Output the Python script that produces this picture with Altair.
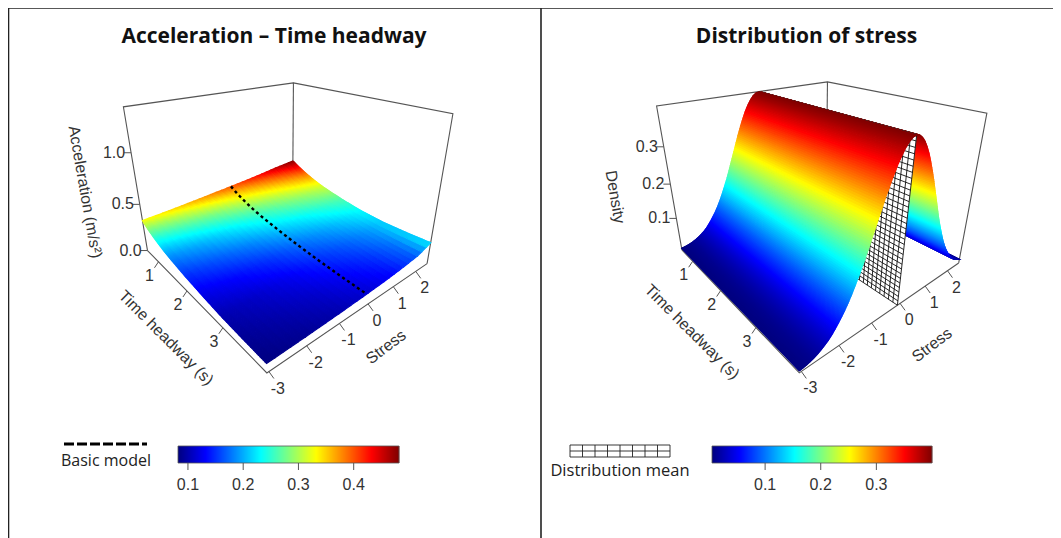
import altair as alt
import numpy as np
import pandas as pd

W, H = 1045, 530

# ---------- values ----------
headway_ticks = [1, 2, 3]
stress_ticks = [-3, -2, -1, 0, 1, 2]
accel_ticks = [0.0, 0.5, 1.0]
density_ticks = [0.1, 0.2, 0.3]
HEADWAY_RANGE = (0.55, 3.95)
STRESS_RANGE = (-3.05, 2.55)
MEAN_LINE_S = -0.1

accel_h = [0.55, 0.75, 1.0, 1.25, 1.5, 2.0, 2.5, 3.0, 3.5, 3.95]
accel_s = [-3.05, -2, -1, 0, 1, 2, 2.55]
accel_z = [
    [.330, .350, .375, .400, .430, .465, .482],
    [.285, .305, .330, .355, .385, .415, .435],
    [.245, .265, .285, .315, .340, .370, .385],
    [.212, .232, .255, .280, .305, .332, .345],
    [.187, .205, .228, .252, .278, .300, .312],
    [.150, .168, .187, .212, .232, .255, .265],
    [.122, .135, .153, .177, .197, .220, .232],
    [.100, .112, .128, .150, .170, .195, .215],
    [.090, .100, .112, .130, .150, .180, .217],
    [.083, .090, .100, .115, .135, .170, .225],
]

density_s = [-3.05, -2.9, -2.8, -2.7, -2.6, -2.5, -2.4, -2.3, -2.2, -2.1, -2.0, -1.9, -1.8, -1.7, -1.6, -1.5,
             -1.4, -1.3, -1.2, -1.1, -1.0, -0.9, -0.8, -0.7, -0.6, -0.5, -0.4, -0.3, -0.2, -0.1, 0.0,
             0.1, 0.2, 0.3, 0.4, 0.5, 0.6, 0.7, 0.8, 0.9, 1.0, 1.1, 1.2, 1.3, 1.4, 1.5, 1.6, 1.7, 1.8,
             1.9, 2.0, 2.1, 2.2, 2.3, 2.4, 2.55]
density_z = [.005, .007, .009, .012, .016, .021, .027, .034, .043, .054, .066, .079, .094, .111, .130,
             .150, .171, .194, .218, .242, .266, .290, .312, .333, .352, .368, .381, .391, .397, .399,
             .397, .391, .381, .368, .352, .333, .312, .290, .266, .242, .218, .194, .171, .150, .130, .111,
             .094, .079, .066, .054, .044, .035, .028, .022, .018, .012]

JET = ["#00007F", "#0000FF", "#007FFF", "#00FFFF", "#7FFF7F", "#FFFF00", "#FF7F00", "#FF0000", "#7F0000"]
ACC_RANGE = (0.082, 0.482)
DEN_RANGE = (0.0045, 0.400)

# picture positions of the eight box corners: (u, v, w) -> (x, y)
ACC_BOX = {(0, 0, 0): (147, 250), (1, 0, 0): (267, 373), (1, 1, 0): (427, 263), (0, 1, 0): (293, 198),
           (0, 0, 1): (124, 106), (1, 0, 1): (261, 173), (1, 1, 1): (453, 113), (0, 1, 1): (293, 83)}
DEN_BOX = {(0, 0, 0): (681, 249), (1, 0, 0): (800, 373), (1, 1, 0): (958, 263), (0, 1, 0): (827, 197),
           (0, 0, 1): (657, 106), (1, 0, 1): (794, 173), (1, 1, 1): (987, 112), (0, 1, 1): (827, 82)}
ACC_ZMAX = 1.4
DEN_ZMAX = 0.4


def camera(box):
    A, b = [], []
    for (u, v, w), (x, y) in box.items():
        A.append([u, v, w, 1, 0, 0, 0, 0, -x * u, -x * v, -x * w]); b.append(x)
        A.append([0, 0, 0, 0, u, v, w, 1, -y * u, -y * v, -y * w]); b.append(y)
    p = np.linalg.lstsq(np.array(A, float), np.array(b, float), rcond=None)[0]
    return np.append(p, 1).reshape(3, 4)


class View:
    def __init__(self, box, zmax):
        self.P = camera(box)
        self.zmax = zmax

    def uvw(self, u, v, w):
        q = self.P @ np.array([u, v, w, 1.0])
        return float(q[0] / q[2]), float(q[1] / q[2])

    def data(self, h, s, z):
        u = (h - HEADWAY_RANGE[0]) / (HEADWAY_RANGE[1] - HEADWAY_RANGE[0])
        v = (s - STRESS_RANGE[0]) / (STRESS_RANGE[1] - STRESS_RANGE[0])
        return self.uvw(u, v, z / self.zmax)


va, vd = View(ACC_BOX, ACC_ZMAX), View(DEN_BOX, DEN_ZMAX)
X = alt.X("x:Q", scale=alt.Scale(domain=[8, 8 + W], nice=False, zero=False), axis=None)
Y = alt.Y("y:Q", scale=alt.Scale(domain=[8 + H, 8], nice=False, zero=False), axis=None)


def jet_scale(rng):
    dom = [round(float(d), 5) for d in np.linspace(rng[0], rng[1], 9)]
    return alt.Scale(type="linear", domain=dom, range=JET, interpolate="rgb", clamp=True, nice=False, zero=False)


def shift(p):
    return [round(p[0] - 8, 2), round(p[1] - 8, 2)]


def geo(features, rng, sw=1.2):
    feats = [{"type": "Feature", "properties": {"v": round(float(v), 5)},
              "geometry": {"type": "Polygon", "coordinates": [[shift(p) for p in poly + [poly[0]]]]}}
             for poly, v in features]
    sc = jet_scale(rng)
    return (alt.Chart(alt.InlineData(values={"type": "FeatureCollection", "features": feats},
                                     format=alt.JsonDataFormat(property="features")))
            .mark_geoshape(strokeWidth=sw)
            .encode(color=alt.Color("properties.v:Q", scale=sc, legend=None),
                    stroke=alt.Stroke("properties.v:Q", scale=sc, legend=None))
            .project(type="identity", scale=1, translate=[0, 0]))


def plain_geo(polys, fill, stroke, width):
    feats = [{"type": "Feature", "properties": {},
              "geometry": {"type": "Polygon", "coordinates": [[shift(p) for p in poly + [poly[0]]]]}}
             for poly in polys]
    return (alt.Chart(alt.InlineData(values={"type": "FeatureCollection", "features": feats},
                                     format=alt.JsonDataFormat(property="features")))
            .mark_geoshape(fill=fill, stroke=stroke, strokeWidth=width)
            .project(type="identity", scale=1, translate=[0, 0]))


def lines(segs, color, width, dash=None):
    rows = []
    for i, seg in enumerate(segs):
        for k, (x, y) in enumerate(seg):
            rows.append({"id": i, "k": k, "x": x, "y": y})
    kw = {"strokeDash": dash} if dash else {}
    return (alt.Chart(pd.DataFrame(rows))
            .mark_line(color=color, strokeWidth=width, clip=False, **kw)
            .encode(x=X, y=Y, detail="id:N", order="k:Q"))


def label(rows, size, font="Liberation Sans", color="#333333", angle=0, weight=400):
    return (alt.Chart(pd.DataFrame(rows, columns=["x", "y", "t"]))
            .mark_text(font=font, fontSize=size, color=color, angle=angle, fontWeight=weight,
                       align="center", baseline="middle")
            .encode(x=X, y=Y, text="t:N"))


# ---------- surfaces ----------
def accel_cells():
    hh = np.linspace(HEADWAY_RANGE[0], HEADWAY_RANGE[1], 111)
    ss = np.linspace(STRESS_RANGE[0], STRESS_RANGE[1], 29)
    zm = np.array(accel_z)
    grid = np.array([[np.interp(s, accel_s, [np.interp(h, accel_h, zm[:, j]) for j in range(len(accel_s))])
                      for s in ss] for h in hh])
    cells = []
    for i in range(len(hh) - 1):
        for j in range(len(ss) - 1):
            poly = [va.data(hh[i], ss[j], grid[i, j]), va.data(hh[i + 1], ss[j], grid[i + 1, j]),
                    va.data(hh[i + 1], ss[j + 1], grid[i + 1, j + 1]), va.data(hh[i], ss[j + 1], grid[i, j + 1])]
            cells.append(([list(p) for p in poly], grid[i:i + 2, j:j + 2].mean()))
    return cells


def density_strips(lo, hi):
    ss = np.linspace(lo, hi, int(round((hi - lo) / 0.02)) + 1)
    zz = np.interp(ss, np.array(density_s) + MEAN_LINE_S + 0.1, density_z)
    out = []
    h0, h1 = HEADWAY_RANGE
    for j in range(len(ss) - 2, -1, -1):
        poly = [vd.data(h0, ss[j], zz[j]), vd.data(h1, ss[j], zz[j]),
                vd.data(h1, ss[j + 1], zz[j + 1]), vd.data(h0, ss[j + 1], zz[j + 1])]
        out.append(([list(p) for p in poly], (zz[j] + zz[j + 1]) / 2))
    return out


layers = []

# boxes go behind the surfaces
for v in (va, vd):
    c = {k: v.uvw(*k) for k in ACC_BOX}
    layers.append(lines([[c[(0, 0, 0)], c[(1, 0, 0)], c[(1, 1, 0)]],
                         [c[(0, 0, 0)], c[(0, 0, 1)], c[(0, 1, 1)], c[(1, 1, 1)], c[(1, 1, 0)]],
                         [c[(0, 1, 1)], c[(0, 1, 0)]]], "#555555", 1.1))

layers.append(geo(accel_cells(), ACC_RANGE))
layers.append(geo(density_strips(MEAN_LINE_S, STRESS_RANGE[1]), DEN_RANGE))

# mesh wall at the distribution mean
h0, h1 = HEADWAY_RANGE
m = MEAN_LINE_S
MESH_ROWS, MESH_COLS = 32, 40
wall = [[list(vd.data(h0, m, 0)), list(vd.data(h1, m, 0)), list(vd.data(h1, m, DEN_ZMAX)), list(vd.data(h0, m, DEN_ZMAX))]]
layers.append(plain_geo(wall, "#ffffff", "#ffffff", 0.2))
mesh = []
for k in range(MESH_ROWS + 1):
    z = DEN_ZMAX * k / MESH_ROWS
    mesh.append([vd.data(h0, m, z), vd.data(h1, m, z)])
for k in range(MESH_COLS + 1):
    h = h0 + (h1 - h0) * k / MESH_COLS
    mesh.append([vd.data(h, m, 0), vd.data(h, m, DEN_ZMAX)])
layers.append(lines(mesh, "#111111", 0.9))
layers.append(geo(density_strips(STRESS_RANGE[0], MEAN_LINE_S), DEN_RANGE))

# dashed model line on the acceleration surface
basic_h = list(np.linspace(HEADWAY_RANGE[0], 3.95, 30))
zm = np.array(accel_z)
basic = [va.data(h, MEAN_LINE_S, float(np.interp(h, accel_h, zm[:, 3]))) for h in basic_h]
layers.append(lines([basic], "#000000", 2.4, [3, 3]))

# ---------- ticks, labels ----------
for v, zticks, ztitle, hpos, spos, ztpos, angle_z in [
    (va, accel_ticks, "Acceleration (m/s²)", (166, 338), (386, 347), (85, 192), 80),
    (vd, density_ticks, "Density", (692, 332), (932, 345), (615, 197), 80),
]:
    segs, rows = [], []
    for t in headway_ticks:
        u = (t - HEADWAY_RANGE[0]) / (HEADWAY_RANGE[1] - HEADWAY_RANGE[0])
        x, y = v.uvw(u, 0, 0)
        segs.append([(x, y), (x - 4, y + 6)])
        rows.append((x - 9, y + 14, str(t)))
    for t in stress_ticks:
        w = (t - STRESS_RANGE[0]) / (STRESS_RANGE[1] - STRESS_RANGE[0])
        x, y = v.uvw(1, w, 0)
        segs.append([(x, y), (x + 5, y + 7)])
        rows.append((x + 9, y + 17, str(t)))
    for t in zticks:
        x, y = v.uvw(0, 0, t / v.zmax)
        segs.append([(x, y), (x - 7, y)])
        rows.append((x - 17, y, f"{t:.1f}"))
    layers.append(lines(segs, "#555555", 1.0))
    layers.append(label(rows, 16))
    layers.append(label([(hpos[0], hpos[1], "Time headway (s)")], 16, angle=45))
    layers.append(label([(spos[0], spos[1], "Stress")], 16, angle=323))
    layers.append(label([(ztpos[0], ztpos[1], ztitle)], 16, angle=angle_z))


# ---------- colour bars ----------
def colour_bar(x0, x1, rng, ticks):
    xs = np.arange(x0, x1)
    vals = rng[0] + (xs + 0.5 - x0) / (x1 - x0) * (rng[1] - rng[0])
    df = pd.DataFrame({"x": xs, "x2": xs + 1.3, "y": 446, "y2": 463, "v": vals})
    bar = alt.Chart(df).mark_rect().encode(x=X, x2="x2:Q", y=Y, y2="y2:Q",
                                           color=alt.Color("v:Q", scale=jet_scale(rng), legend=None))
    per = (x1 - x0) / (rng[1] - rng[0])
    tx = [x0 + (t - rng[0]) * per for t in ticks]
    return [bar,
            lines([[(x0, 446), (x1, 446), (x1, 463), (x0, 463), (x0, 446)]], "#555555", 0.8),
            lines([[(x, 463), (x, 470)] for x in tx], "#555555", 1),
            label([(x, 485, f"{t:.1f}") for x, t in zip(tx, ticks)], 16)]


layers += colour_bar(178, 399, ACC_RANGE, [0.1, 0.2, 0.3, 0.4])
layers += colour_bar(712, 932, DEN_RANGE, [0.1, 0.2, 0.3])

# ---------- legends ----------
layers.append(lines([[(64, 444), (147, 444)]], "#000000", 3, [10, 3]))
layers.append(label([(106, 461, "Basic model")], 16, font="Open Sans", color="#222222"))
lg = [[(570 + 100 * i / 8, 445), (570 + 100 * i / 8, 457)] for i in range(9)]
lg += [[(570, 445 + 6 * i), (670, 445 + 6 * i)] for i in range(3)]
layers.append(lines(lg, "#222222", 0.9))
layers.append(label([(620, 471, "Distribution mean")], 16.5, font="Open Sans", color="#222222"))

# ---------- titles and frame ----------
layers.append(label([(274, 37, "Acceleration – Time headway")], 21, font="Open Sans", color="#111111", weight=700))
layers.append(label([(806.5, 37, "Distribution of stress")], 21, font="Open Sans", color="#111111", weight=700))
layers.append(lines([[(8.5, 538), (8.5, 8), (1053, 8)], [(541, 8), (541, 538)]], "#222222", 1.6))

chart = (alt.layer(*layers)
         .resolve_scale(color="independent", stroke="independent")
         .properties(width=W, height=H, padding=0, autosize=alt.AutoSizeParams(type="none"), background="white")
         .configure_view(stroke=None))
chart.save("out.html", embed_options={"renderer": "svg", "actions": False})
